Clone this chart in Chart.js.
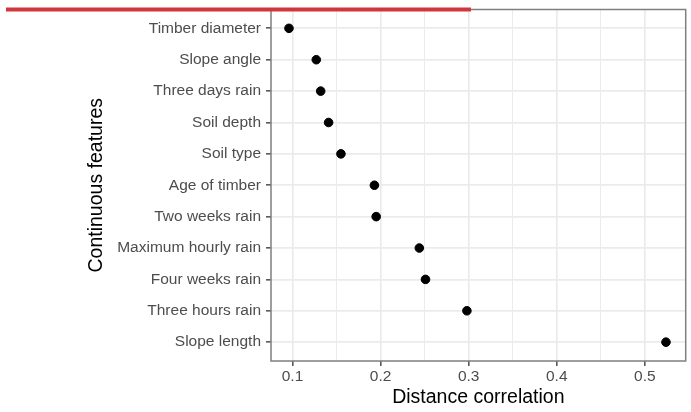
<!DOCTYPE html>
<html>
<head>
<meta charset="utf-8">
<script src="https://cdn.jsdelivr.net/npm/chart.js@4"></script>
<style>
  html, body { margin: 0; padding: 0; background: #fff; }
  #wrap { width: 691px; height: 412px; }
</style>
</head>
<body>
<div id="wrap"><canvas id="myChart" width="691" height="412"></canvas></div>
<script>
// features, top to bottom
var features = ['Timber diameter', 'Slope angle', 'Three days rain', 'Soil depth', 'Soil type',
    'Age of timber', 'Two weeks rain', 'Maximum hourly rain', 'Four weeks rain', 'Three hours rain', 'Slope length'];
var dcor = [0.096, 0.127, 0.132, 0.141, 0.155, 0.193, 0.195, 0.244, 0.251, 0.298, 0.524];
var xTicks = [0.1, 0.15, 0.2, 0.25, 0.3, 0.35, 0.4, 0.45, 0.5];

var points = dcor.map(function (v, i) { return { x: v, y: i }; });

function isMajor(v) {
    return Math.abs(v * 10 - Math.round(v * 10)) < 1e-6;
}

// panel border + the red bar across the top
var frame = {
    id: 'frame',
    afterDraw: function (chart) {
        var c = chart.ctx, a = chart.chartArea;
        c.save();
        c.strokeStyle = '#7f7f7f';
        c.lineWidth = 1.5;
        c.strokeRect(a.left, a.top, a.right - a.left, a.bottom - a.top);
        c.fillStyle = '#d3363a';
        c.fillRect(6, 7.5, 465, 4);
        c.restore();
    }
};

var ctx = document.getElementById('myChart');
var myChart = new Chart(ctx, {
    type: 'scatter',
    data: {
        datasets: [{
            data: points,
            backgroundColor: '#000',
            borderColor: '#000',
            pointRadius: 4.3,
            pointHoverRadius: 4.3
        }]
    },
    plugins: [frame],
    options: {
        responsive: false,
        animation: false,
        layout: { padding: { top: 9.5, right: 4, left: 0, bottom: 0 } },
        plugins: { legend: { display: false }, tooltip: { enabled: false } },
        scales: {
            x: {
                type: 'linear',
                min: 0.0756,
                max: 0.5464,
                afterBuildTicks: function (s) {
                    s.ticks = xTicks.map(function (v) { return { value: v }; });
                },
                afterFit: function (s) { s.height = 51; s.paddingLeft = 0; s.paddingRight = 0; },
                border: { display: false },
                grid: {
                    color: '#ebebeb',
                    lineWidth: function (c) { return c.tick && isMajor(c.tick.value) ? 1.7 : 1; },
                    tickLength: 5,
                    tickColor: function (c) { return c.tick && isMajor(c.tick.value) ? '#333333' : 'rgba(0,0,0,0)'; },
                    tickWidth: 1.3
                },
                ticks: {
                    padding: 1,
                    color: '#4d4d4d',
                    font: { family: 'Liberation Sans', size: 15.5 },
                    maxRotation: 0,
                    autoSkip: false,
                    callback: function (v) { return isMajor(v) ? v.toFixed(1) : ''; }
                },
                title: {
                    display: true,
                    text: 'Distance correlation',
                    color: '#000',
                    font: { family: 'Liberation Sans', size: 19.5 },
                    padding: { top: 0, bottom: 3 }
                }
            },
            y: {
                type: 'linear',
                reverse: true,
                min: -0.6,
                max: features.length - 0.4,
                afterBuildTicks: function (s) {
                    s.ticks = features.map(function (f, i) { return { value: i }; });
                },
                afterFit: function (s) { s.width = 271; s.paddingTop = 0; s.paddingBottom = 0; },
                border: { display: false },
                grid: {
                    color: '#ebebeb',
                    lineWidth: 1.7,
                    tickLength: 5,
                    tickColor: '#333333',
                    tickWidth: 1.3
                },
                ticks: {
                    padding: 5,
                    color: '#4d4d4d',
                    font: { family: 'Liberation Sans', size: 15.5 },
                    autoSkip: false,
                    callback: function (v) { return features[v]; }
                },
                title: {
                    display: true,
                    text: 'Continuous features',
                    color: '#000',
                    font: { family: 'Liberation Sans', size: 19.5 },
                    padding: { top: 85, bottom: 0 }
                }
            }
        }
    }
});
</script>
</body>
</html>
